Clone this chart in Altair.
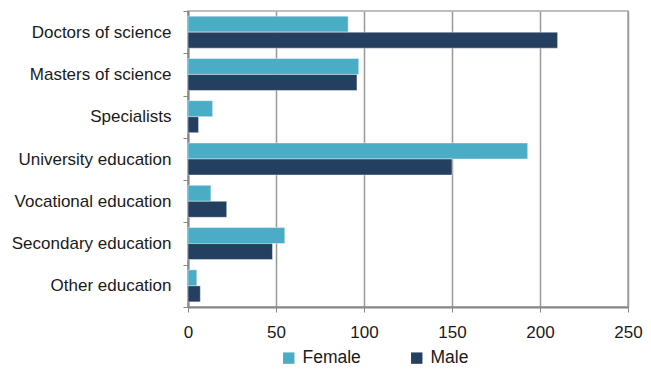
import altair as alt
import pandas as pd

categories = ["Doctors of science", "Masters of science", "Specialists",
              "University education", "Vocational education",
              "Secondary education", "Other education"]
female = [91, 97, 14, 193, 13, 55, 5]
male = [210, 96, 6, 150, 22, 48, 7]
series = ["Female", "Male"]
colors = ["#4BACC6", "#243F60"]

rows = []
for c, f, m in zip(categories, female, male):
    rows.append({"cat": c, "series": "Female", "value": f})
    rows.append({"cat": c, "series": "Male", "value": m})
df = pd.DataFrame(rows)

chart = alt.Chart(df).mark_bar(stroke="white", strokeWidth=0.6, strokeOpacity=0.7).encode(
    y=alt.Y("cat:N", sort=categories, title=None,
            scale=alt.Scale(paddingInner=0, paddingOuter=0),
            axis=alt.Axis(tickBand="extent", labelFont="Liberation Sans", labelFontSize=17,
                          labelColor="#1a1a1a", labelPadding=12, tickSize=5,
                          tickColor="#888888", domainColor="#888888", domainWidth=2,
                          gridColor="#999999", gridWidth=1.5, labelLimit=300)),
    yOffset=alt.YOffset("series:N", sort=series,
                        scale=alt.Scale(paddingInner=0, paddingOuter=0.32)),
    x=alt.X("value:Q", title=None,
            scale=alt.Scale(domain=[0, 250], nice=False),
            axis=alt.Axis(values=[0, 50, 100, 150, 200, 250], labelFont="Liberation Sans",
                          labelFontSize=17, labelColor="#1a1a1a", tickSize=5,
                          tickColor="#888888", domainColor="#888888", domainWidth=2,
                          gridColor="#999999", gridWidth=1.5, labelPadding=12,
                          labelFlush=False)),
    color=alt.Color("series:N", sort=series,
                    scale=alt.Scale(domain=series, range=colors),
                    legend=alt.Legend(title=None, orient="none", direction="horizontal",
                                      legendX=92, legendY=338, symbolType="square",
                                      symbolSize=130, symbolStrokeWidth=0,
                                      labelFont="Liberation Sans", labelFontSize=17.5,
                                      labelColor="#1a1a1a", columnPadding=47,
                                      labelOffset=5)),
).properties(
    width=440, height=296,
    autosize=alt.AutoSizeParams(type="none"),
    padding={"left": 180, "top": 3, "right": 15, "bottom": 60},
).configure_view(stroke="#aaaaaa", strokeWidth=1.5)

chart.save("out.html", embed_options={"renderer": "svg", "actions": False})
